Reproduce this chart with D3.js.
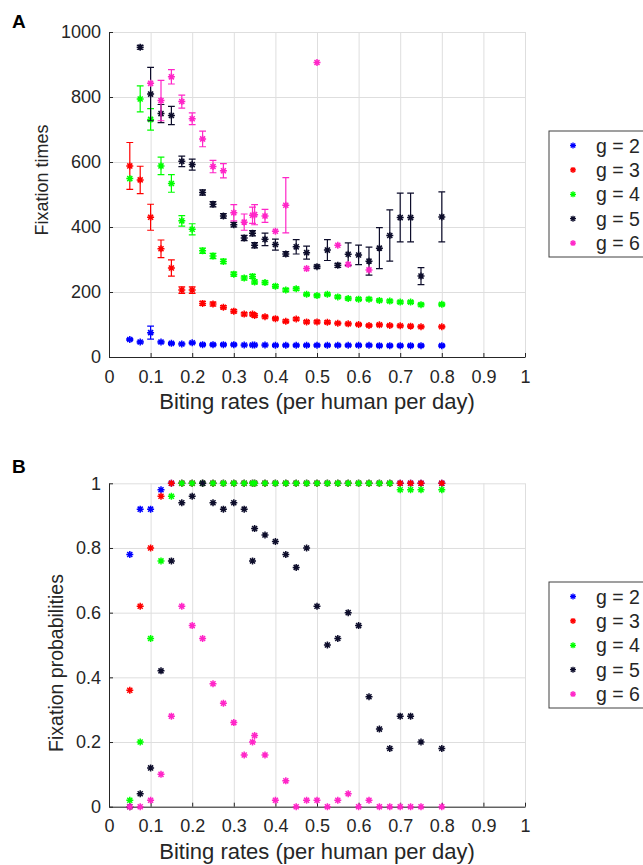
<!DOCTYPE html>
<html>
<head>
<meta charset="utf-8">
<script src="https://d3js.org/d3.v7.min.js"></script>
<style>
  body { margin: 0; background: #fff; }
  text { font-family: "Liberation Sans", Arial, Helvetica, sans-serif; fill: #262626; }
</style>
</head>
<body>
<script>
// biting rates (x) shared by all series
const biteRates = [0.05, 0.075, 0.1, 0.125, 0.15, 0.175, 0.2, 0.225, 0.25, 0.275, 0.3, 0.325, 0.345, 0.35,
  0.375, 0.4, 0.425, 0.45, 0.475, 0.5, 0.525, 0.55, 0.575, 0.6, 0.625, 0.65, 0.675, 0.7, 0.725, 0.75, 0.8];

const seriesNames = ["g = 2", "g = 3", "g = 4", "g = 5", "g = 6"];
const seriesColors = ["#0000ff", "#ff0000", "#00ff00", "#0d0d2b", "#ff26c8"];

// panel A: fixation times (null = no fixation)
const timeG2 = [54, 46, 75, 46, 42, 40, 44, 38, 38, 38, 38, 37, 37, 37, 37, 36, 36, 36, 36, 36, 36, 36, 36, 36, 36, 35, 35, 35, 35, 35, 35];
const timeG3 = [588, 545, 430, 333, 274, 206, 206, 165, 163, 153, 141, 132, 132, 128, 124, 118, 110, 117, 108, 108, 107, 104, 102, 100, 97, 99, 97, 96, 95, 93, 93];
const timeG4 = [549, 794, 731, 588, 534, 419, 393, 327, 311, 294, 255, 243, 248, 231, 229, 218, 206, 210, 193, 189, 193, 185, 180, 178, 178, 174, 172, 169, 169, 161, 162];
const timeG5 = [null, 953, 809, 749, 743, 602, 592, 506, 470, 434, 407, 366, 381, 344, 362, 346, 317, 339, 321, 278, 329, 282, 316, 314, 295, 335, 374, 429, 429, 249, 431];
const timeG6 = [null, null, 842, 789, 862, 786, 733, 671, 586, 573, 444, 415, 436, 438, 434, 387, 467, null, 272, 906, null, 344, 285, null, 268, null, null, null, null, null, null];

// error bar half widths
const errG2 = [3, 3, 20, 3, 3, 3, 3, 3, 3, 3, 3, 3, 3, 3, 3, 3, 3, 3, 3, 3, 3, 3, 3, 3, 3, 3, 3, 3, 3, 3, 3];
const errG3 = [72, 42, 40, 27, 25, 10, 10, 6, 6, 5, 5, 5, 5, 5, 4, 4, 4, 4, 4, 4, 4, 3, 3, 3, 3, 3, 3, 3, 3, 3, 3];
const errG4 = [null, 40, 33, 27, 27, 16, 17, 8, 8, 7, 6, 6, 6, 6, 5, 5, 5, 5, 4, 4, 4, 4, 4, 4, 4, 4, 4, 4, 4, 4, 4];
const errG5 = [null, 6, 82, 28, 28, 16, 17, 8, 8, 7, 7, 8, 8, 8, 19, 17, 7, 22, 20, 5, 32, 6, 35, 30, 43, 63, 79, 75, 75, 26, 77];
const errG6 = [null, null, null, 62, 22, 20, 18, 24, 19, 22, 25, 25, 25, 31, 20, null, 85, null, null, null, null, null, null, null, null, null, null, null, null, null, null];

// panel B: fixation probabilities
const probG2 = [0.78, 0.92, 0.92, 0.98, 1, 1, 1, 1, 1, 1, 1, 1, 1, 1, 1, 1, 1, 1, 1, 1, 1, 1, 1, 1, 1, 1, 1, 1, 1, 1, 1];
const probG3 = [0.36, 0.62, 0.80, 0.96, 1, 1, 1, 1, 1, 1, 1, 1, 1, 1, 1, 1, 1, 1, 1, 1, 1, 1, 1, 1, 1, 1, 1, 1, 1, 1, 1];
const probG4 = [0.02, 0.20, 0.52, 0.76, 0.96, 1, 1, 1, 1, 1, 1, 1, 1, 1, 1, 1, 1, 1, 1, 1, 1, 1, 1, 1, 1, 1, 1, 0.98, 0.98, 0.98, 0.98];
const probG5 = [0, 0.04, 0.12, 0.42, 0.76, 0.94, 0.96, 1, 0.94, 0.92, 0.94, 0.92, 0.76, 0.86, 0.84, 0.82, 0.78, 0.74, 0.80, 0.62, 0.50, 0.52, 0.60, 0.56, 0.34, 0.24, 0.18, 0.28, 0.28, 0.20, 0.18];
const probG6 = [0, 0, 0.02, 0.10, 0.28, 0.62, 0.56, 0.52, 0.38, 0.32, 0.26, 0.16, 0.20, 0.22, 0.16, 0.02, 0.08, 0, 0.02, 0.02, 0, 0.02, 0.04, 0, 0.02, 0, 0, 0, 0, 0, 0];

const xTicks = [0, 0.1, 0.2, 0.3, 0.4, 0.5, 0.6, 0.7, 0.8, 0.9, 1];
const timeTicks = [0, 200, 400, 600, 800, 1000];
const probTicks = [0, 0.2, 0.4, 0.6, 0.8, 1];

const width = 643, height = 865;
const svg = d3.select("body").append("svg")
    .attr("width", width)
    .attr("height", height);

// matlab style '*' marker
function asterisk(r) {
  let d = r * 0.72;
  return `M${-r},0H${r}M0,${-r}V${r}M${-d},${-d}L${d},${d}M${-d},${d}L${d},${-d}`;
}

function drawPanel(p) {
  let x = d3.scaleLinear().domain([0, 1]).range([109, 525]);
  let y = d3.scaleLinear().domain(p.yDomain).range([p.bottom, p.top]);
  let g = svg.append("g");

  // grid
  g.append("g")
      .attr("transform", `translate(0,${p.bottom})`)
      .call(d3.axisBottom(x).tickValues(xTicks).tickSize(-(p.bottom - p.top)).tickFormat(""))
      .call(a => a.select(".domain").remove())
      .selectAll("line").attr("stroke", "#dedede");
  g.append("g")
      .attr("transform", "translate(109,0)")
      .call(d3.axisLeft(y).tickValues(p.yTicks).tickSize(-(525 - 109)).tickFormat(""))
      .call(a => a.select(".domain").remove())
      .selectAll("line").attr("stroke", "#dedede");

  // axes with inward ticks
  let xAxis = g.append("g")
      .attr("transform", `translate(0,${p.bottom})`)
      .call(d3.axisBottom(x).tickValues(xTicks).tickSizeInner(-4).tickSizeOuter(0).tickPadding(13)
        .tickFormat(d3.format("")));
  let yAxis = g.append("g")
      .attr("transform", "translate(109,0)")
      .call(d3.axisLeft(y).tickValues(p.yTicks).tickSizeInner(-4).tickSizeOuter(0).tickPadding(8)
        .tickFormat(d3.format("")));
  [xAxis, yAxis].forEach(a => {
    a.select(".domain").attr("stroke", "#262626");
    a.selectAll("line").attr("stroke", "#262626");
    a.selectAll("text").attr("font-size", 18).style("fill", "#262626");
  });

  // series
  p.values.forEach((vals, si) => {
    let pts = biteRates.map((b, i) => ({ b: b, v: vals[i], e: p.errs ? p.errs[si][i] : null }))
        .filter(d => d.v != null);
    let col = seriesColors[si];
    let bars = pts.filter(d => d.e != null);
    let eg = g.append("g").attr("stroke", col).attr("stroke-width", 1.2);
    eg.selectAll(".bar").data(bars).join("path")
        .attr("fill", "none")
        .attr("d", d => {
          let cx = x(d.b), y1 = y(d.v - d.e), y2 = y(d.v + d.e);
          return `M${cx},${y1}V${y2}M${cx - 3.4},${y1}H${cx + 3.4}M${cx - 3.4},${y2}H${cx + 3.4}`;
        });
    g.append("g").selectAll("path").data(pts).join("path")
        .attr("transform", d => `translate(${x(d.b)},${y(d.v)})`)
        .attr("d", asterisk(3.5))
        .attr("fill", "none")
        .attr("stroke", col)
        .attr("stroke-width", 1.5);
  });

  // labels
  g.append("text")
      .attr("x", 317).attr("y", p.bottom + 52)
      .attr("text-anchor", "middle")
      .attr("font-size", 22)
      .text("Biting rates (per human per day)");
  g.append("text")
      .attr("transform", `translate(${p.ylabX},${p.ylabY}) rotate(-90)`)
      .attr("text-anchor", "middle")
      .attr("font-size", p.ylabSize)
      .text(p.ylabel);
  g.append("text")
      .attr("x", 12).attr("y", p.letterY)
      .attr("font-size", 19).attr("font-weight", "bold")
      .style("fill", "#000")
      .text(p.letter);

  // legend
  let lg = g.append("g").attr("transform", `translate(549,${p.legTop})`);
  lg.append("rect")
      .attr("width", 120).attr("height", 126)
      .attr("fill", "#fff").attr("stroke", "#404040").attr("stroke-width", 1);
  seriesNames.forEach((name, i) => {
    let ly = 14.5 + i * 24.4;
    lg.append("path")
        .attr("transform", `translate(24,${ly})`)
        .attr("d", asterisk(3))
        .attr("fill", "none")
        .attr("stroke", seriesColors[i])
        .attr("stroke-width", 1.3);
    lg.append("text")
        .attr("x", 47).attr("y", ly + 7)
        .attr("font-size", 19.5)
        .text(name);
  });
}

drawPanel({
  top: 32, bottom: 357, yDomain: [0, 1000], yTicks: timeTicks,
  values: [timeG2, timeG3, timeG4, timeG5, timeG6],
  errs: [errG2, errG3, errG4, errG5, errG6],
  ylabel: "Fixation times", ylabX: 48, ylabY: 180, ylabSize: 18,
  letter: "A", letterY: 28, legTop: 131
});

drawPanel({
  top: 483.3, bottom: 806.7, yDomain: [0, 1], yTicks: probTicks,
  values: [probG2, probG3, probG4, probG5, probG6],
  errs: null,
  ylabel: "Fixation probabilities", ylabX: 63, ylabY: 663, ylabSize: 19.5,
  letter: "B", letterY: 473, legTop: 582
});
</script>
</body>
</html>
